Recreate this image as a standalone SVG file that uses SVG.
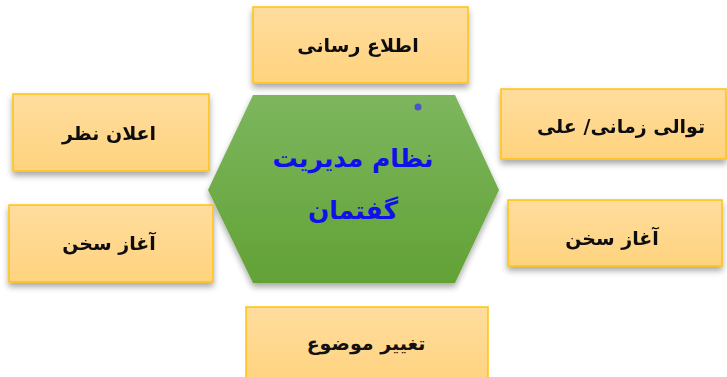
<svg xmlns="http://www.w3.org/2000/svg" width="727" height="377" viewBox="0 0 727 377">
<defs>
<linearGradient id="boxg" x1="0" y1="0" x2="0" y2="1">
<stop offset="0" stop-color="#FFDD9E"/>
<stop offset="1" stop-color="#FFD37E"/>
</linearGradient>
<linearGradient id="hexg" x1="0" y1="0" x2="0" y2="1">
<stop offset="0" stop-color="#7DB65E"/>
<stop offset="1" stop-color="#62A236"/>
</linearGradient>
<filter id="sh" x="-20%" y="-20%" width="140%" height="150%">
<feGaussianBlur in="SourceAlpha" stdDeviation="3"/>
<feOffset dx="0" dy="4" result="b"/>
<feComponentTransfer><feFuncA type="linear" slope="0.35"/></feComponentTransfer>
<feMerge><feMergeNode/><feMergeNode in="SourceGraphic"/></feMerge>
</filter>
</defs>
<style>
.box{fill:url(#boxg);stroke:#FFC20E;stroke-width:1.5}
.t{font-family:"DejaVu Sans",sans-serif;font-weight:bold;font-size:19px;fill:#111;text-anchor:middle;dominant-baseline:central}
.h{font-family:"DejaVu Sans",sans-serif;font-weight:bold;font-size:25px;fill:#1010E8;text-anchor:middle;dominant-baseline:central}
</style>
<rect width="727" height="377" fill="#FFFFFF"/>
<g id="connectors"></g>
<g id="center">
<polygon points="253,95 455,95 499,190 455,283 253,283 208,190" fill="url(#hexg)" filter="url(#sh)"/>
<circle cx="418" cy="107" r="3.5" fill="#4A55C8"/>
<text class="h" x="353" y="158" direction="rtl">نظام مدیریت</text>
<text class="h" x="353" y="210" direction="rtl">گفتمان</text>
</g>
<g id="n-top" filter="url(#sh)">
<rect class="box" x="253" y="7" width="215" height="76"/>
<text class="t" x="358" y="45" direction="rtl">اطلاع رسانی</text>
</g>
<g id="n-lefttop" filter="url(#sh)">
<rect class="box" x="13" y="94" width="196" height="77"/>
<text class="t" x="109" y="133" direction="rtl">اعلان نظر</text>
</g>
<g id="n-leftbottom" filter="url(#sh)">
<rect class="box" x="9" y="205" width="204" height="77"/>
<text class="t" x="109" y="243" direction="rtl">آغاز سخن</text>
</g>
<g id="n-righttop" filter="url(#sh)">
<rect class="box" x="501" y="89" width="225" height="70"/>
<text class="t" x="621" y="126" direction="rtl">توالی زمانی/ علی</text>
</g>
<g id="n-rightbottom" filter="url(#sh)">
<rect class="box" x="508" y="200" width="214" height="66"/>
<text class="t" x="612" y="238" direction="rtl">آغاز سخن</text>
</g>
<g id="n-bottom">
<rect class="box" x="246" y="307" width="242" height="80"/>
<text class="t" x="366" y="343" direction="rtl">تغییر موضوع</text>
</g>
</svg>
